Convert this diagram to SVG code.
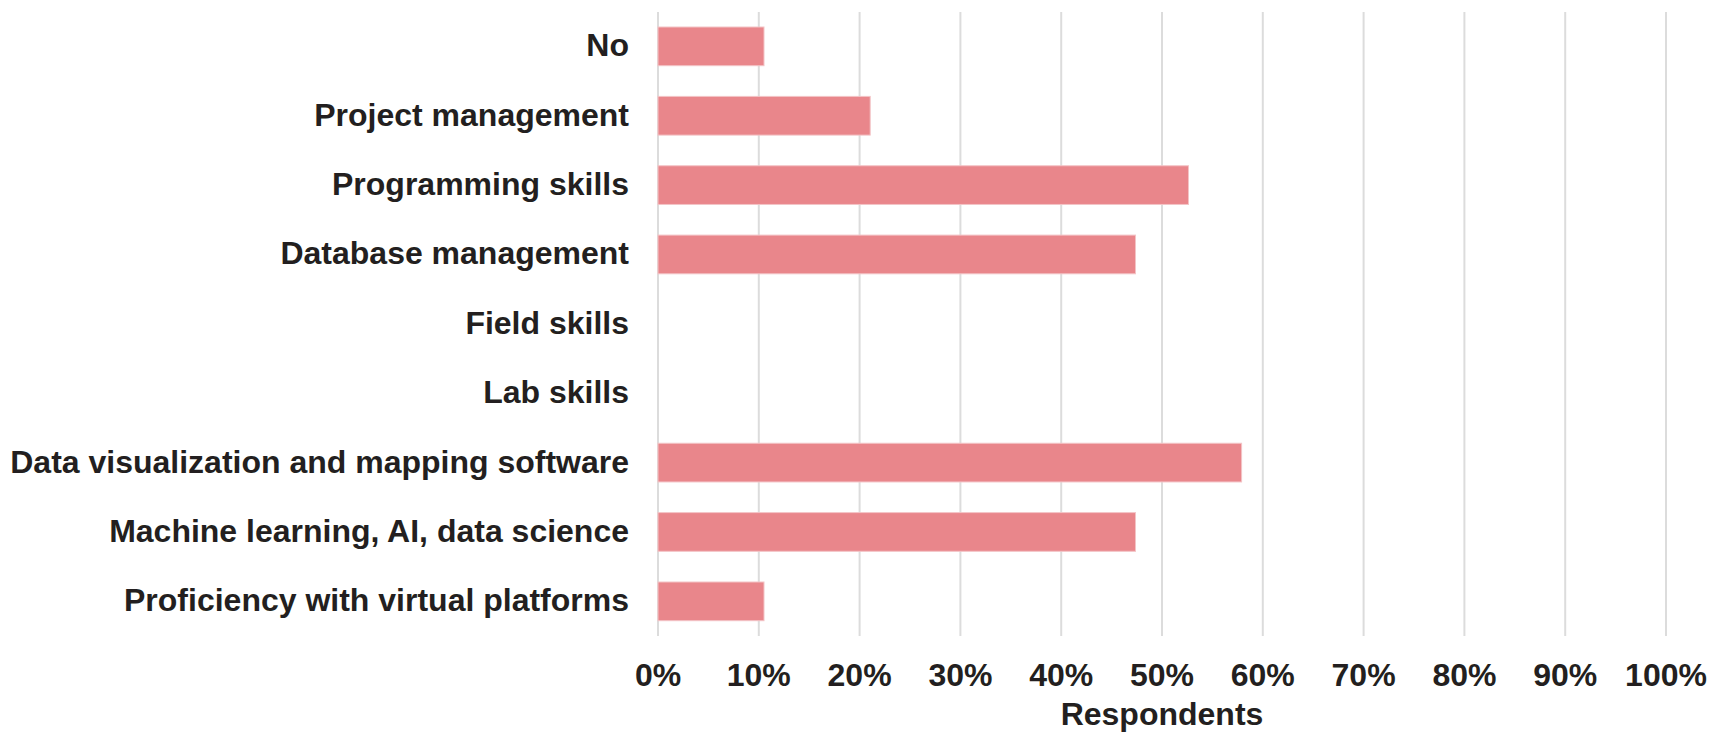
<svg xmlns="http://www.w3.org/2000/svg" width="1710" height="735" viewBox="0 0 1710 735">
<style>
.grid{stroke:#dcdcdc;stroke-width:2}
.bar{fill:#e9868b;stroke:#f3c4c6;stroke-width:1}
.lbl{font-family:"Liberation Sans",Arial,sans-serif;font-weight:bold;font-size:32px;fill:#231f20;text-anchor:end}
.tick{font-family:"Liberation Sans",Arial,sans-serif;font-weight:bold;font-size:32px;fill:#231f20;text-anchor:middle}
</style>
<rect width="1710" height="735" fill="#ffffff"/>
<g id="gridlines">
<line class="grid" x1="658" y1="12" x2="658" y2="636"/>
<line class="grid" x1="758.8" y1="12" x2="758.8" y2="636"/>
<line class="grid" x1="859.6" y1="12" x2="859.6" y2="636"/>
<line class="grid" x1="960.4" y1="12" x2="960.4" y2="636"/>
<line class="grid" x1="1061.2" y1="12" x2="1061.2" y2="636"/>
<line class="grid" x1="1162" y1="12" x2="1162" y2="636"/>
<line class="grid" x1="1262.8" y1="12" x2="1262.8" y2="636"/>
<line class="grid" x1="1363.6" y1="12" x2="1363.6" y2="636"/>
<line class="grid" x1="1464.4" y1="12" x2="1464.4" y2="636"/>
<line class="grid" x1="1565.2" y1="12" x2="1565.2" y2="636"/>
<line class="grid" x1="1666" y1="12" x2="1666" y2="636"/>
</g>
<g id="bars">
<rect class="bar" x="658" y="27" width="106" height="38.7"/>
<rect class="bar" x="658" y="96.4" width="212.2" height="38.7"/>
<rect class="bar" x="658" y="165.75" width="530.5" height="38.7"/>
<rect class="bar" x="658" y="235.1" width="477.5" height="38.7"/>
<rect class="bar" x="658" y="443.25" width="583.6" height="38.7"/>
<rect class="bar" x="658" y="512.6" width="477.5" height="38.7"/>
<rect class="bar" x="658" y="582" width="106" height="38.7"/>
</g>
<g id="labels">
<text class="lbl" x="629" y="56.3">No</text>
<text class="lbl" x="629" y="125.7">Project management</text>
<text class="lbl" x="629" y="195.1">Programming skills</text>
<text class="lbl" x="629" y="264.4">Database management</text>
<text class="lbl" x="629" y="333.8">Field skills</text>
<text class="lbl" x="629" y="403.2">Lab skills</text>
<text class="lbl" x="629" y="472.6">Data visualization and mapping software</text>
<text class="lbl" x="629" y="541.9">Machine learning, AI, data science</text>
<text class="lbl" x="629" y="611.3">Proficiency with virtual platforms</text>
</g>
<g id="axis">
<text class="tick" x="658" y="685.5">0%</text>
<text class="tick" x="758.8" y="685.5">10%</text>
<text class="tick" x="859.6" y="685.5">20%</text>
<text class="tick" x="960.4" y="685.5">30%</text>
<text class="tick" x="1061.2" y="685.5">40%</text>
<text class="tick" x="1162" y="685.5">50%</text>
<text class="tick" x="1262.8" y="685.5">60%</text>
<text class="tick" x="1363.6" y="685.5">70%</text>
<text class="tick" x="1464.4" y="685.5">80%</text>
<text class="tick" x="1565.2" y="685.5">90%</text>
<text class="tick" x="1666" y="685.5">100%</text>
<text class="tick" x="1162" y="724.5">Respondents</text>
</g>
</svg>
